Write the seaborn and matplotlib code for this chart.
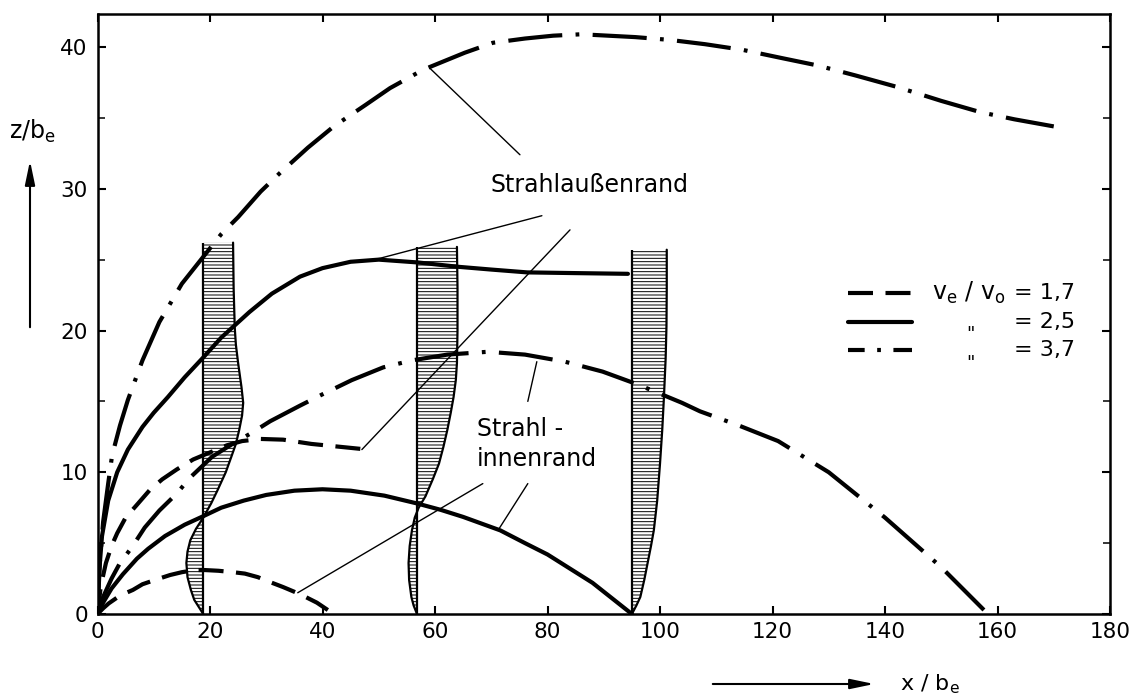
import pandas as pd
import seaborn as sns
import matplotlib.pyplot as plt

# Strahlränder (x/b_e, z/b_e)
# v_e/v_o = 1,7 (gestrichelt)
x_aus_17 = [0, 0.6, 1.5, 2.5, 3.5, 5, 7, 9.3, 11.5, 14.1, 17, 20, 23, 25.7, 29, 33, 38, 43, 48]
z_aus_17 = [0, 2.0, 3.6, 4.8, 5.7, 6.8, 7.7, 8.75, 9.5, 10.2, 10.9, 11.4, 11.9, 12.2, 12.35, 12.3, 12.0, 11.8, 11.6]
x_inn_17 = [0, 1, 2, 4, 6.3, 8, 10.2, 12.9, 15, 17.3, 19.1, 21.5, 24.1, 26.2, 28.5, 30.7, 33, 36, 39, 42]
z_inn_17 = [0, 0.4, 0.75, 1.3, 1.7, 2.1, 2.4, 2.75, 2.95, 3.1, 3.1, 3.05, 2.95, 2.85, 2.6, 2.25, 1.9, 1.4, 0.8, 0]

# v_e/v_o = 2,5 (durchgezogen)
x_aus_25 = [0, 0.3, 0.8, 1.9, 3.5, 5.4, 8, 10, 12.5, 15.5, 18.8, 22, 27, 31, 36, 40, 45, 50, 57, 64, 70, 76.4, 85, 94.3]
z_aus_25 = [0, 3.0, 5.5, 8.0, 10.0, 11.6, 13.2, 14.2, 15.3, 16.7, 18.1, 19.5, 21.3, 22.6, 23.8, 24.4, 24.85, 25.0, 24.8, 24.5, 24.3, 24.1, 24.05, 24.0]
x_inn_25 = [0, 1, 2.5, 4.5, 7, 9, 12, 15.5, 18.8, 22, 26, 30, 35, 40, 45, 51, 56.8, 61, 65, 71.6, 76, 80, 84, 88, 91.5, 95]
z_inn_25 = [0, 0.8, 1.8, 2.8, 3.9, 4.6, 5.5, 6.3, 6.9, 7.5, 8.0, 8.4, 8.7, 8.8, 8.7, 8.35, 7.8, 7.35, 6.85, 5.9, 5.0, 4.2, 3.2, 2.2, 1.1, 0]

# v_e/v_o = 3,7 (strichpunktiert)
x_aus_37 = [0, 0.4, 1.0, 1.9, 2.6, 4.0, 5.4, 8, 11, 15, 19, 22, 25, 29, 32.4, 37.4, 42, 47.6, 52, 57.9,
            65.3, 70.3, 76, 81, 86, 95.6, 101.8, 108, 114.7, 121.9, 128, 134.7, 142, 150, 157, 163, 170]
z_aus_37 = [0, 3.5, 6.5, 9.2, 11.2, 13.3, 15.1, 17.9, 20.6, 23.3, 25.3, 26.8, 28.0, 29.8, 31.1, 32.9, 34.4, 35.9, 37.1, 38.4,
            39.6, 40.3, 40.6, 40.8, 40.9, 40.7, 40.5, 40.2, 39.8, 39.2, 38.7, 38.0, 37.2, 36.2, 35.4, 34.9, 34.4]
x_inn_37 = [0, 1, 2.5, 4, 6.1, 8.4, 11, 14.1, 16.4, 20.4, 24, 27.5, 30.7, 36, 40, 45.2, 50.8, 56, 62.2, 69.4,
            76, 83.1, 89.8, 96, 103.9, 107.1, 114, 121, 130, 140, 150, 158.3]
z_inn_37 = [0, 1.2, 2.5, 3.6, 4.7, 6.1, 7.3, 8.5, 9.6, 11.1, 12.0, 12.8, 13.6, 14.7, 15.5, 16.5, 17.4, 17.9, 18.3, 18.5,
            18.3, 17.8, 17.1, 16.2, 14.9, 14.3, 13.3, 12.2, 10.0, 6.8, 3.3, 0]

# Geschwindigkeitsprofile bei x/b_e = 19, 57, 95 (Auslenkung dx über z)
x_prof = [18.8, 56.8, 95.0]
z_p1 = [0, 1.0, 1.7, 2.6, 3.6, 4.4, 5.2, 6.0, 6.8, 7.8, 8.7, 10.0, 11.1, 12.0, 13.0, 14.0, 14.9, 16.0, 17.7, 19.0, 20.2, 23.0, 26.2]
dx_p1 = [0, -1.6, -2.2, -2.8, -3.0, -2.8, -2.3, -1.3, 0, 1.4, 2.5, 4.0, 5.0, 5.8, 6.4, 6.9, 7.1, 6.8, 6.2, 5.8, 5.6, 5.4, 5.3]
z_p2 = [0, 0.6, 1.2, 2.4, 3.6, 4.8, 5.9, 6.8, 7.5, 8.3, 9.5, 10.6, 11.8, 13.0, 14.2, 15.3, 16.5, 17.7, 20.0, 23.0, 25.9]
dx_p2 = [0, -0.6, -1.0, -1.4, -1.5, -1.3, -0.9, -0.4, 0.3, 1.5, 2.8, 3.9, 4.7, 5.4, 6.0, 6.5, 6.9, 7.1, 7.2, 7.2, 7.1]
z_p3 = [0, 0.6, 1.2, 2.4, 3.6, 4.8, 5.9, 8.0, 10.6, 13.0, 15.3, 18.0, 20.3, 23.0, 25.7]
dx_p3 = [0, 0.8, 1.5, 2.2, 2.8, 3.4, 3.9, 4.5, 5.0, 5.4, 5.7, 6.0, 6.15, 6.2, 6.2]

# Legende
leg_werte = ['1,7', '2,5', '3,7']

# Beschriftungslinien (Start -> Ende)
hinweis_aussen = [((59.1, 38.5), (75.1, 32.4)), ((49.3, 25.0), (79.0, 28.1)), ((47.0, 11.6), (84.0, 27.1))]
hinweis_innen = [((78.1, 17.8), (76.5, 15.0)), ((35.6, 1.5), (68.5, 9.2)), ((71.2, 5.9), (76.5, 9.2))]

sns.set_theme(style='ticks')
plt.rcParams['font.family'] = ['DejaVu Sans']
plt.rcParams['text.color'] = 'black'
plt.rcParams['axes.labelcolor'] = 'black'
plt.rcParams['hatch.linewidth'] = 0.7

fig = plt.figure(figsize=(11.42, 6.97), dpi=100)
ax = fig.add_axes([97.5 / 1142, 83 / 697, 1012.5 / 1142, 600 / 697])

st_17 = (0, (6, 3))
st_25 = '-'
st_37 = (0, (13, 3.2, 0.9, 3.2))

kurven = [
    (x_aus_17, z_aus_17, st_17), (x_inn_17, z_inn_17, st_17),
    (x_aus_25, z_aus_25, st_25), (x_inn_25, z_inn_25, st_25),
    (x_aus_37, z_aus_37, st_37), (x_inn_37, z_inn_37, st_37),
]
for xs, zs, ls in kurven:
    df = pd.DataFrame({'x': xs, 'z': zs})
    sns.lineplot(data=df, x='x', y='z', ax=ax, color='black', linewidth=3,
                 linestyle=ls, estimator=None, sort=False)

# schraffierte Profile
for x0, zs, dxs in zip(x_prof, [z_p1, z_p2, z_p3], [dx_p1, dx_p2, dx_p3]):
    xr = [x0 + d for d in dxs]
    ax.fill_betweenx(zs, x0, xr, hatch='-----', facecolor='none', edgecolor='black', linewidth=0)
    ax.plot(xr, zs, color='black', lw=1.6)
    ax.vlines(x0, 0, max(zs), color='black', lw=1.6)

# Hinweislinien
for (a, b) in hinweis_aussen + hinweis_innen:
    ax.plot([a[0], b[0]], [a[1], b[1]], color='black', lw=1.0)

ax.text(87.4, 30.3, 'Strahlaußenrand', ha='center', va='center', fontsize=17)
ax.text(67.5, 12.0, 'Strahl -\ninnenrand', ha='left', va='center', fontsize=17, linespacing=1.3)

# Legende von Hand
leg_y = [0.535, 0.487, 0.44]
leg_st = [st_17, st_25, (0, (4, 3, 0.9, 3, 8))]
for y, ls in zip(leg_y, leg_st):
    ax.plot([0.741, 0.804], [y, y], transform=ax.transAxes, color='black', lw=3, linestyle=ls)
ax.text(0.824, leg_y[0], r'v$_\mathregular{e}$ / v$_\mathregular{o}$', transform=ax.transAxes,
        ha='left', va='center', fontsize=17)
for y in leg_y[1:]:
    ax.text(0.862, y - 0.006, '"', transform=ax.transAxes, ha='center', va='top', fontsize=13)
for y, w in zip(leg_y, leg_werte):
    ax.text(0.905, y, '= ' + w, transform=ax.transAxes, ha='left', va='center', fontsize=16)

ax.set_xlim(0, 180)
ax.set_ylim(0, 42.33)
ax.set_xticks(range(0, 181, 20))
ax.set_yticks(range(0, 41, 10))
ax.set_yticks(range(5, 41, 10), minor=True)
ax.set_xlabel('')
ax.set_ylabel('')
ax.tick_params(axis='both', which='major', direction='in', length=6, width=1.5,
               top=True, right=True, labelsize=15.5, colors='black')
ax.tick_params(axis='x', pad=6)
ax.tick_params(axis='y', pad=7)
ax.tick_params(axis='y', which='minor', direction='in', length=5, width=1.3, left=True, right=True)
for s in ax.spines.values():
    s.set_linewidth(1.8)
    s.set_color('black')

# Achsbeschriftungen mit Pfeilen
fig.text(0.008, 1 - 131 / 697, r'z/b$_\mathregular{e}$', ha='left', va='center', fontsize=17)
ax.annotate('', xy=(30 / 1142, 1 - 158 / 697), xytext=(30 / 1142, 1 - 330 / 697),
            xycoords='figure fraction', textcoords='figure fraction',
            arrowprops=dict(arrowstyle='-|>,head_length=1.2,head_width=0.25', color='black', lw=1.5))
fig.text(900 / 1142, 1 - 684 / 697, r'x / b$_\mathregular{e}$', ha='left', va='center', fontsize=16)
ax.annotate('', xy=(877 / 1142, 1 - 684 / 697), xytext=(710 / 1142, 1 - 684 / 697),
            xycoords='figure fraction', textcoords='figure fraction',
            arrowprops=dict(arrowstyle='-|>,head_length=1.2,head_width=0.25', color='black', lw=1.5))

fig.savefig('out.png', dpi=100, facecolor='white')
